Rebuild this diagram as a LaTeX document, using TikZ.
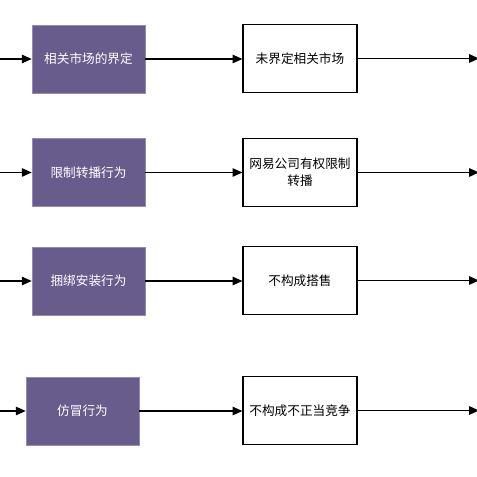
\documentclass[tikz,border=0pt]{standalone}
\usepackage{fontspec}
\setmainfont{Noto Sans CJK SC}
\usetikzlibrary{arrows.meta, positioning}
\definecolor{casepurple}{RGB}{104,92,140}

\begin{document}
\begin{tikzpicture}[x=0.025cm, y=-0.025cm,
    issue/.style={rectangle, draw=casepurple!70!white, fill=casepurple, text=white, minimum width=2.825cm, minimum height=1.7cm, font=\fontsize{9}{12}\selectfont, inner sep=1pt},
    verdict/.style={rectangle, draw, fill=white, thick, minimum width=2.85cm, minimum height=1.72cm, text width=2.65cm, align=center, font=\fontsize{9}{12}\selectfont, inner sep=1pt},
    arrow/.style={-{Triangle[length=7pt, width=6pt]}, line width=0.9pt}
]
\useasboundingbox (0,0) rectangle (477,477);

% Issues of the case
\node[issue] (market) at (88.5,59) {相关市场的界定};
\node[issue] (restrict) at (88.5,172.5) {限制转播行为};
\node[issue] (bundle) at (88.5,281) {捆绑安装行为};
\node[issue] (imitate) at (82.5,411) {仿冒行为};

% Verdicts
\node[verdict] (nomarket) at (300,58.5) {未界定相关市场};
\node[verdict] (mayrestrict) at (300,172.5) {网易公司有权限制\\转播};
\node[verdict] (notie) at (300,280.5) {不构成搭售};
\node[verdict] (nounfair) at (300,410.5) {不构成不正当竞争};

% Free ends at the margins
\coordinate (in1) at (0,59);
\coordinate (in2) at (0,172.5);
\coordinate (in3) at (0,281);
\coordinate (in4) at (0,411);
\coordinate (out1) at (479,58.5);
\coordinate (out2) at (479,172.5);
\coordinate (out3) at (479,280.5);
\coordinate (out4) at (479,410.5);

\draw[arrow] (in1) -- (market);
\draw[arrow] (in2) -- (restrict);
\draw[arrow] (in3) -- (bundle);
\draw[arrow] (in4) -- (imitate);

\draw[arrow] (market) -- (market -| nomarket.west);
\draw[arrow] (restrict) -- (restrict -| mayrestrict.west);
\draw[arrow] (bundle) -- (bundle -| notie.west);
\draw[arrow] (imitate) -- (imitate -| nounfair.west);

\draw[arrow] (nomarket) -- (out1);
\draw[arrow] (mayrestrict) -- (out2);
\draw[arrow] (notie) -- (out3);
\draw[arrow] (nounfair) -- (out4);
\end{tikzpicture}
\end{document}
